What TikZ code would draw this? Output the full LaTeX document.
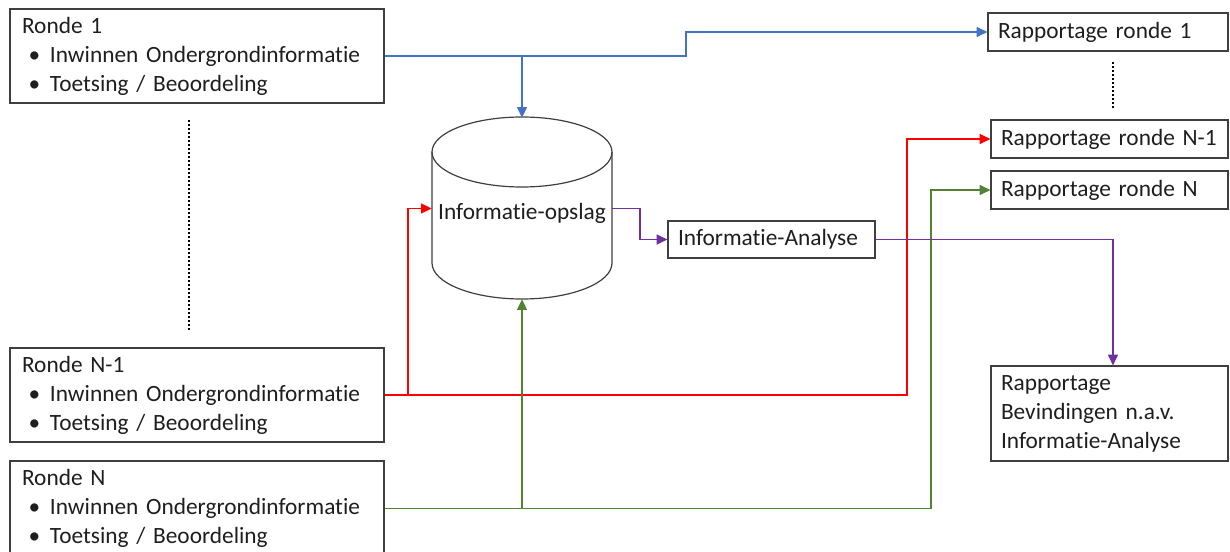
\documentclass[tikz,border=0pt]{standalone}
\usepackage{fontspec}
\setmainfont{Carlito}[Ligatures=NoCommon]
\usetikzlibrary{arrows.meta,calc}
\definecolor{cblue}{HTML}{4472C4}
\definecolor{cred}{HTML}{FF0000}
\definecolor{cgreen}{HTML}{548235}
\definecolor{cpurple}{HTML}{7030A0}
\definecolor{boxgray}{HTML}{3F3F3F}
\definecolor{txt}{HTML}{1E1E1E}
\newcommand{\bul}{\makebox[21pt][l]{\hspace{5pt}\textbullet}}
\newcommand{\myfont}{\fontsize{17.5}{21.75}\selectfont\fontdimen2\font=2.9pt\relax}
\begin{document}
\begin{tikzpicture}[x=0.75pt,y=-0.75pt,
  every node/.style={font=\myfont, text=txt},
  rbox/.style={draw=boxgray, line width=0.9pt, align=left, inner xsep=9pt, inner ysep=0pt,
    text width=262.5pt, minimum height=70.5pt},
  pbox/.style={draw=boxgray, line width=0.9pt, align=left, inner xsep=7.5pt, inner ysep=0pt,
    minimum height=28.5pt},
  cylline/.style={draw=boxgray, line width=0.9pt},
  conn/.style={line width=0.8pt, -{Triangle[length=8pt,width=7.5pt]}},
  dotline/.style={line width=1.8pt, dash pattern=on 1.5pt off 1.5pt, black}
]
\useasboundingbox (0,0) rectangle (1230,552);
\clip (0,0) rectangle (1230,552);

% left boxes
\node[rbox] (R1) at (197,56) {Ronde 1\\\bul Inwinnen Ondergrondinformatie\\\bul Toetsing / Beoordeling};
\node[rbox] (RN1) at (197,395) {Ronde N-1\\\bul Inwinnen Ondergrondinformatie\\\bul Toetsing / Beoordeling};
\node[rbox, minimum height=71.25pt] (RN) at (197,508.5) {Ronde N\\\bul Inwinnen Ondergrondinformatie\\\bul Toetsing / Beoordeling};

% cylinder
\draw[cylline] (432,152) -- (432,263) arc[start angle=180,end angle=360,x radius=67.5pt,y radius=27pt] -- (612,152);
\draw[cylline] (522,152) ellipse[x radius=67.5pt, y radius=26.25pt];
\node[minimum width=135pt, minimum height=135.75pt, inner sep=0pt] (cyl) at (522,208.5) {};
\node[inner sep=0pt] (cyltext) at (522,213) {Informatie-opslag};

% analysis box
\node[pbox, text width=140.25pt, minimum height=27.75pt] (IA) at (771.5,239.5) {Informatie-Analyse};

% right boxes
\node[pbox, text width=165pt] (Rap1) at (1108,32) {Rapportage ronde 1};
\node[pbox, text width=162.75pt] (RapN1) at (1109.5,139) {Rapportage ronde N-1};
\node[pbox, text width=162.75pt] (RapN) at (1109.5,190) {Rapportage ronde N};
\node[pbox, text width=162.75pt, minimum height=71.25pt] (RapB) at (1109.5,413.5) {Rapportage\\Bevindingen n.a.v.\\Informatie-Analyse};

% dotted lines
\draw[dotline] (189,120) -- (189,332);
\draw[dotline] (1113,62) -- (1113,110);

% blue
\coordinate (bk) at (686,56);
\draw[conn, cblue] (R1.east) -- (bk) |- (Rap1.west);
\draw[conn, cblue] (cyl.north |- R1.east) -- (cyl.north);

% red
\coordinate (rk1) at (408,395);
\coordinate (rk2) at (907,395);
\draw[conn, cred] (RN1.east) -- (rk1) |- (cyl.west);
\draw[conn, cred] (rk1) -- (rk2) |- (RapN1.west);

% green
\coordinate (gk) at (931,508.5);
\draw[conn, cgreen] (RN.east) -| (cyl.south);
\draw[conn, cgreen] (cyl.south |- RN.east) -- (gk) |- (RapN.west);

% purple
\coordinate (pk) at (640,208.5);
\draw[conn, cpurple] (cyl.east) -- (pk) |- (IA.west);
\draw[conn, cpurple] (IA.east) -| ([xshift=2.6pt]RapB.north);
\end{tikzpicture}
\end{document}
